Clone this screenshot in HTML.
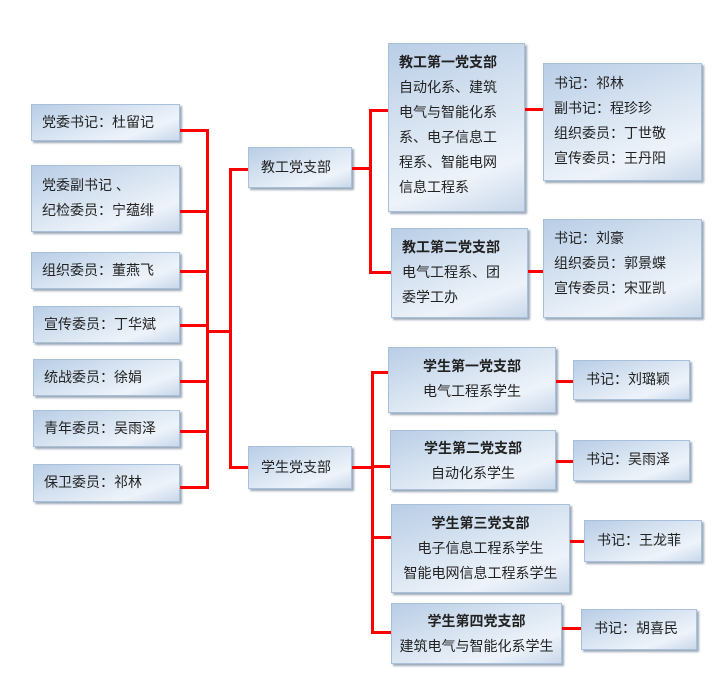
<!DOCTYPE html>
<html><head><meta charset="utf-8"><style>
body{margin:0;width:720px;height:697px;background:#fff;position:relative;overflow:hidden;font-family:"Liberation Sans","Noto Sans CJK SC",sans-serif;font-size:14px;color:#222}
.b{position:absolute;box-sizing:border-box;border:1px solid #a9c0da;background:linear-gradient(160deg,#b9cde6 0%,#dce7f3 50%,#eef3fa 75%,#c9d8ea 100%);box-shadow:2px 2px 2px #9aa8b8;line-height:25px}
.c{text-align:center}
.r{position:absolute;background:#f00}
b{font-weight:bold}
</style></head><body>
<!-- left boxes -->
<div class="b" style="left:31px;top:104px;width:149px;height:37px;padding:5px 0 0 10px">党委书记：杜留记</div>
<div class="b" style="left:31px;top:165px;width:149px;height:67px;padding:7px 0 0 10px">党委副书记 、<br>纪检委员：宁蕴绯</div>
<div class="b" style="left:31px;top:252px;width:149px;height:37px;padding:5px 0 0 10px">组织委员：董燕飞</div>
<div class="b" style="left:33px;top:306px;width:147px;height:37px;padding:5px 0 0 10px">宣传委员：丁华斌</div>
<div class="b" style="left:33px;top:359px;width:147px;height:37px;padding:5px 0 0 10px">统战委员：徐娟</div>
<div class="b" style="left:33px;top:410px;width:147px;height:37px;padding:5px 0 0 10px">青年委员：吴雨泽</div>
<div class="b" style="left:33px;top:464px;width:147px;height:38px;padding:5px 0 0 10px">保卫委员：祁林</div>
<!-- left connectors -->
<div class="r" style="left:180px;top:129px;width:28px;height:3px"></div>
<div class="r" style="left:180px;top:210px;width:28px;height:3px"></div>
<div class="r" style="left:180px;top:270px;width:28px;height:3px"></div>
<div class="r" style="left:180px;top:324px;width:28px;height:3px"></div>
<div class="r" style="left:180px;top:380px;width:28px;height:3px"></div>
<div class="r" style="left:180px;top:430px;width:28px;height:3px"></div>
<div class="r" style="left:180px;top:486px;width:28px;height:3px"></div>
<div class="r" style="left:206px;top:129px;width:3px;height:360px"></div>
<div class="r" style="left:206px;top:330px;width:25px;height:3px"></div>
<div class="r" style="left:229px;top:168px;width:3px;height:300px"></div>
<div class="r" style="left:229px;top:168px;width:19px;height:3px"></div>
<div class="r" style="left:229px;top:466px;width:19px;height:3px"></div>
<!-- middle -->
<div class="b" style="left:248px;top:147px;width:104px;height:41px;padding:7px 0 0 12px">教工党支部</div>
<div class="b" style="left:248px;top:446px;width:104px;height:43px;padding:8px 0 0 12px">学生党支部</div>
<div class="r" style="left:352px;top:167px;width:20px;height:3px"></div>
<div class="r" style="left:369px;top:109px;width:3px;height:165px"></div>
<div class="r" style="left:369px;top:109px;width:19px;height:3px"></div>
<div class="r" style="left:369px;top:271px;width:22px;height:3px"></div>
<div class="r" style="left:352px;top:466px;width:22px;height:3px"></div>
<div class="r" style="left:371px;top:371px;width:3px;height:263px"></div>
<div class="r" style="left:371px;top:371px;width:17px;height:3px"></div>
<div class="r" style="left:371px;top:465px;width:19px;height:3px"></div>
<div class="r" style="left:371px;top:536px;width:20px;height:3px"></div>
<div class="r" style="left:371px;top:631px;width:20px;height:3px"></div>
<!-- staff branches -->
<div class="b" style="left:388px;top:43px;width:137px;height:169px;padding:6px 0 0 10px"><b>教工第一党支部</b><br>自动化系、建筑<br>电气与智能化系<br>系、电子信息工<br>程系、智能电网<br>信息工程系</div>
<div class="r" style="left:525px;top:108px;width:18px;height:3px"></div>
<div class="b" style="left:543px;top:63px;width:159px;height:118px;padding:7px 0 0 10px">书记：祁林<br>副书记：程珍珍<br>组织委员：丁世敬<br>宣传委员：王丹阳</div>
<div class="b" style="left:391px;top:228px;width:137px;height:90px;padding:6px 0 0 10px"><b>教工第二党支部</b><br>电气工程系、团<br>委学工办</div>
<div class="r" style="left:528px;top:270px;width:15px;height:3px"></div>
<div class="b" style="left:543px;top:219px;width:159px;height:99px;padding:6px 0 0 10px">书记：刘豪<br>组织委员：郭景蝶<br>宣传委员：宋亚凯</div>
<!-- student branches -->
<div class="b c" style="left:388px;top:347px;width:168px;height:66px;padding:6px 0 0 0"><b>学生第一党支部</b><br>电气工程系学生</div>
<div class="r" style="left:556px;top:380px;width:17px;height:3px"></div>
<div class="b" style="left:573px;top:360px;width:117px;height:40px;padding:6px 0 0 12px">书记：刘璐颖</div>
<div class="b c" style="left:390px;top:430px;width:166px;height:60px;padding:5px 0 0 0"><b>学生第二党支部</b><br>自动化系学生</div>
<div class="r" style="left:556px;top:460px;width:17px;height:3px"></div>
<div class="b" style="left:573px;top:440px;width:117px;height:41px;padding:6px 0 0 12px">书记：吴雨泽</div>
<div class="b c" style="left:391px;top:504px;width:179px;height:89px;padding:6px 0 0 0"><b>学生第三党支部</b><br>电子信息工程系学生<br>智能电网信息工程系学生</div>
<div class="r" style="left:570px;top:540px;width:14px;height:3px"></div>
<div class="b" style="left:584px;top:520px;width:118px;height:42px;padding:7px 0 0 12px">书记：王龙菲</div>
<div class="b c" style="left:391px;top:603px;width:171px;height:61px;padding:5px 0 0 0"><b>学生第四党支部</b><br>建筑电气与智能化系学生</div>
<div class="r" style="left:562px;top:627px;width:19px;height:3px"></div>
<div class="b" style="left:581px;top:609px;width:116px;height:41px;padding:6px 0 0 12px">书记：胡喜民</div>
</body></html>
